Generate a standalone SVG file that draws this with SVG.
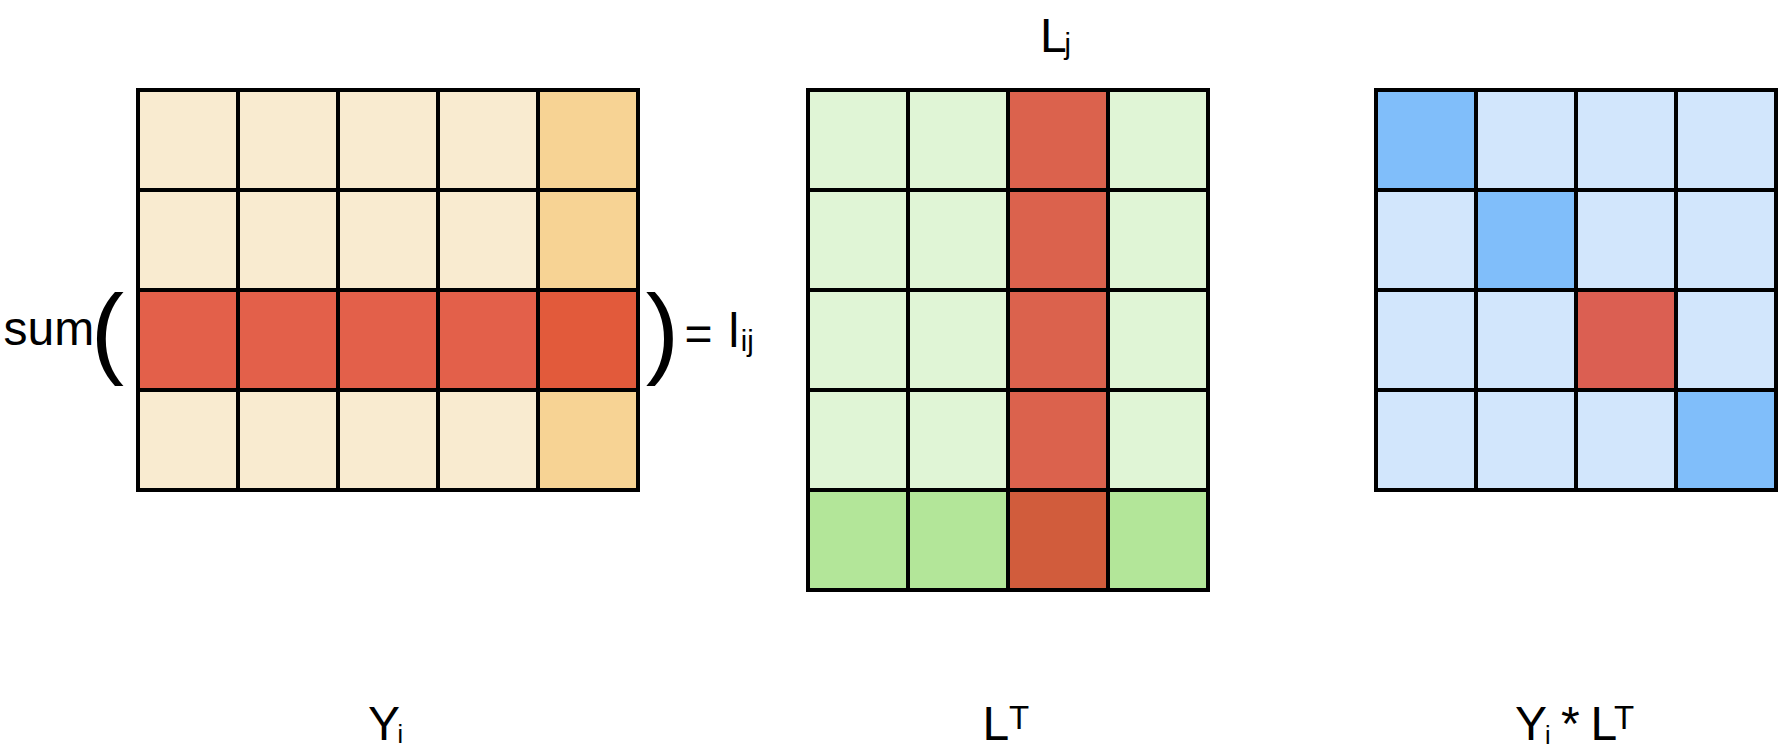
<svg xmlns="http://www.w3.org/2000/svg" width="1779" height="755" viewBox="0 0 1779 755">
<style>
.c{stroke:#000;stroke-width:4}
.t{font-family:"Liberation Sans",Arial,sans-serif;fill:#000}
.y0{fill:#F9EBD0}.y1{fill:#F7D394}.y2{fill:#E3604A}.y3{fill:#E25A3B}
.g0{fill:#E0F5D6}.g1{fill:#B3E699}.g2{fill:#DB624D}.g3{fill:#D15C3C}
.b0{fill:#D2E6FC}.b1{fill:#80BEFA}.b2{fill:#DB5F52}
</style>
<rect width="1779" height="755" fill="#fff"/>
<g id="Yi">
<rect class="c y0" x="138" y="90" width="100" height="100"/><rect class="c y0" x="238" y="90" width="100" height="100"/><rect class="c y0" x="338" y="90" width="100" height="100"/><rect class="c y0" x="438" y="90" width="100" height="100"/><rect class="c y1" x="538" y="90" width="100" height="100"/>
<rect class="c y0" x="138" y="190" width="100" height="100"/><rect class="c y0" x="238" y="190" width="100" height="100"/><rect class="c y0" x="338" y="190" width="100" height="100"/><rect class="c y0" x="438" y="190" width="100" height="100"/><rect class="c y1" x="538" y="190" width="100" height="100"/>
<rect class="c y2" x="138" y="290" width="100" height="100"/><rect class="c y2" x="238" y="290" width="100" height="100"/><rect class="c y2" x="338" y="290" width="100" height="100"/><rect class="c y2" x="438" y="290" width="100" height="100"/><rect class="c y3" x="538" y="290" width="100" height="100"/>
<rect class="c y0" x="138" y="390" width="100" height="100"/><rect class="c y0" x="238" y="390" width="100" height="100"/><rect class="c y0" x="338" y="390" width="100" height="100"/><rect class="c y0" x="438" y="390" width="100" height="100"/><rect class="c y1" x="538" y="390" width="100" height="100"/>
</g>
<g id="LT">
<rect class="c g0" x="808" y="90" width="100" height="100"/><rect class="c g0" x="908" y="90" width="100" height="100"/><rect class="c g2" x="1008" y="90" width="100" height="100"/><rect class="c g0" x="1108" y="90" width="100" height="100"/>
<rect class="c g0" x="808" y="190" width="100" height="100"/><rect class="c g0" x="908" y="190" width="100" height="100"/><rect class="c g2" x="1008" y="190" width="100" height="100"/><rect class="c g0" x="1108" y="190" width="100" height="100"/>
<rect class="c g0" x="808" y="290" width="100" height="100"/><rect class="c g0" x="908" y="290" width="100" height="100"/><rect class="c g2" x="1008" y="290" width="100" height="100"/><rect class="c g0" x="1108" y="290" width="100" height="100"/>
<rect class="c g0" x="808" y="390" width="100" height="100"/><rect class="c g0" x="908" y="390" width="100" height="100"/><rect class="c g2" x="1008" y="390" width="100" height="100"/><rect class="c g0" x="1108" y="390" width="100" height="100"/>
<rect class="c g1" x="808" y="490" width="100" height="100"/><rect class="c g1" x="908" y="490" width="100" height="100"/><rect class="c g3" x="1008" y="490" width="100" height="100"/><rect class="c g1" x="1108" y="490" width="100" height="100"/>
</g>
<g id="YiLT">
<rect class="c b1" x="1376" y="90" width="100" height="100"/><rect class="c b0" x="1476" y="90" width="100" height="100"/><rect class="c b0" x="1576" y="90" width="100" height="100"/><rect class="c b0" x="1676" y="90" width="100" height="100"/>
<rect class="c b0" x="1376" y="190" width="100" height="100"/><rect class="c b1" x="1476" y="190" width="100" height="100"/><rect class="c b0" x="1576" y="190" width="100" height="100"/><rect class="c b0" x="1676" y="190" width="100" height="100"/>
<rect class="c b0" x="1376" y="290" width="100" height="100"/><rect class="c b0" x="1476" y="290" width="100" height="100"/><rect class="c b2" x="1576" y="290" width="100" height="100"/><rect class="c b0" x="1676" y="290" width="100" height="100"/>
<rect class="c b0" x="1376" y="390" width="100" height="100"/><rect class="c b0" x="1476" y="390" width="100" height="100"/><rect class="c b0" x="1576" y="390" width="100" height="100"/><rect class="c b1" x="1676" y="390" width="100" height="100"/>
</g>
<g id="labels">
<text class="t" x="3.5" y="345" font-size="48">sum</text>
<text class="t" x="90.7" y="365" font-size="100">(</text>
<text class="t" x="645.7" y="365" font-size="100">)</text>
<text class="t" x="684.6" y="350" font-size="48">=</text>
<text class="t" x="728.5" y="346.7" font-size="48">l</text>
<text class="t" x="740.8" y="350.6" font-size="29">ij</text>
<text class="t" x="1040" y="51.7" font-size="48">L</text>
<text class="t" x="1064.5" y="54" font-size="29">j</text>
<text class="t" x="368" y="740" font-size="48">Y</text>
<text class="t" x="397.6" y="743.3" font-size="25">i</text>
<text class="t" x="982.5" y="740" font-size="48">L</text>
<text class="t" x="1009" y="729.3" font-size="33">T</text>
<text class="t" x="1515" y="740" font-size="48">Y</text>
<text class="t" x="1545" y="744" font-size="25">i</text>
<text class="t" x="1561" y="740" font-size="48">*</text>
<text class="t" x="1590.5" y="740" font-size="48">L</text>
<text class="t" x="1614" y="729.3" font-size="33">T</text>
</g>
</svg>
